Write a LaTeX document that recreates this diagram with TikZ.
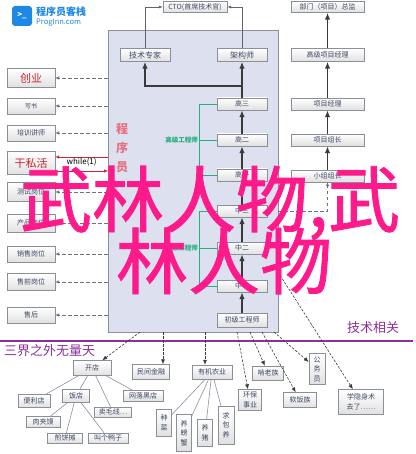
\documentclass[tikz,border=0pt]{standalone}
\usepackage{fontspec}
\setmainfont{Noto Sans CJK SC}
\newfontfamily\epais[FakeBold=1.2]{Noto Sans CJK SC}
\usetikzlibrary{arrows.meta}
\definecolor{gris}{HTML}{8A8F99}
\definecolor{sombre}{HTML}{3A3A3A}
\definecolor{encre}{HTML}{3C4865}
\definecolor{panneau}{HTML}{DCE0EF}
\definecolor{vert}{HTML}{22B07D}
\definecolor{rouge}{HTML}{C8282E}
\definecolor{violet}{HTML}{8B2F9C}
\definecolor{rose}{HTML}{FF1A8C}
\definecolor{saumon}{HTML}{E8707E}
\definecolor{bleu}{HTML}{1E88E5}
\begin{document}
\begin{tikzpicture}[x=1pt,y=-1pt]
	\tikzstyle{boite}=[draw=gris,top color=white,bottom color=black!12,text=encre,inner sep=0pt,minimum height=12,align=center,font=\fontsize{7}{9.5}\selectfont]
	\tikzstyle{grande}=[boite,text=rouge,font=\fontsize{11}{12}\selectfont]
	\tikzstyle{fleche}=[-{Latex[length=7pt,width=5.5pt]},line width=1.8pt,draw=sombre]
	\tikzstyle{filet}=[-{Latex[length=4pt,width=3pt]},draw=gris!70!black,semithick]
	\tikzstyle{pointille}=[-{Latex[length=4pt,width=3.5pt]},draw=gris!80!black,dash pattern=on 3.5pt off 2.5pt,semithick]
	\tikzstyle{tiret}=[-{Latex[length=5pt,width=4pt]},draw=sombre,dash pattern=on 2.5pt off 1.5pt,semithick]
	\tikzstyle{rouge}=[-{Latex[length=4pt,width=3.5pt]},draw=rouge,semithick]
	\tikzstyle{branche}=[draw=gris,semithick]
	\tikzstyle{accolade}=[draw=vert,semithick]
	\tikzstyle{etiquette}=[text=vert,font=\fontsize{6.5}{7}\bfseries\selectfont,inner sep=1pt,anchor=east]
	\tikzstyle{filigrane}=[text=rose,font=\fontsize{72}{72}\epais,inner sep=0pt]
	\def\ColGauche{31}\def\ColCentre{242}\def\ColDroite{327.5}
	\useasboundingbox (0,0) rectangle (415,454);
	% logo
	\node[fill=bleu,rounded corners=3,minimum size=20,inner sep=0pt,text=white,font=\fontsize{8}{8}\bfseries\selectfont] (logo) at (22,16) {>\_};
	\node[text=bleu,font=\fontsize{10}{10}\bfseries\selectfont,anchor=west,inner sep=0pt] (nom) at (36,12) {程序员客栈};
	\node[text=bleu,font=\fontsize{7.5}{8}\selectfont,anchor=west,inner sep=0pt] (site) at (36,23) {ProgInn.com};
	% panneau central
	\node[draw=gris,fill=panneau,minimum width=170,minimum height=302,inner sep=0pt] (P) at (193,181) {};
	\node[text=saumon,font=\fontsize{12}{19}\bfseries\selectfont,align=center] (prog) at (122,148) {程\\序\\员};
	\node[boite,minimum width=64,minimum height=11] (CTO) at (195,7) {CTO(首席技术官)};
	\node[boite,minimum width=50,minimum height=13,font=\fontsize{8}{9}\selectfont] (JZ) at (145,55) {技术专家};
	\node[boite,minimum width=50,minimum height=13,font=\fontsize{8}{9}\selectfont] (JG) at (\ColCentre,55) {架构师};
	\node[boite,minimum width=50] (H3) at (\ColCentre,104) {高三};
	\node[boite,minimum width=50] (H2) at (\ColCentre,140) {高二};
	\node[boite,minimum width=50] (H1) at (\ColCentre,175) {高一};
	\node[boite,minimum width=50] (M3) at (\ColCentre,211) {中三};
	\node[boite,minimum width=50] (M2) at (\ColCentre,248) {中二};
	\node[boite,minimum width=50] (M1) at (\ColCentre,286) {中一};
	\node[boite,minimum width=50,minimum height=14] (CJ) at (\ColCentre,320) {初级工程师};
	\draw[filet] (JZ.north) |- (CTO.west);
	\draw[filet] (JG.north) |- (CTO.east);
	\draw[fleche] (H3) -- (JG);
	\coordinate (coude) at (\ColCentre,86);
	\draw[fleche] (coude) -| (JZ);
	\draw[fleche] (H2) -- (H3);
	\draw[fleche] (H1) -- (H2);
	\draw[fleche] (M3) -- (H1);
	\draw[fleche] (M2) -- (M3);
	\draw[fleche] (M1) -- (M2);
	\draw[fleche] (CJ) -- (M1);
	% accolades vertes
	\node[etiquette] (GH) at (199,140) {高级工程师};
	\node[etiquette] (GM) at (199,248) {中级工程师};
	\draw[accolade] (H3.west) -- ++(-18,0) |- (H1.west);
	\draw[accolade] (GH.east) -- (H2.west);
	\draw[accolade] (M3.west) -- ++(-18,0) |- (M1.west);
	\draw[accolade] (GM.east) -- (M2.west);
	% colonne de droite
	\node[boite,minimum width=73,minimum height=11] (R1) at (\ColDroite,7) {部门（项目）总监};
	\node[boite,minimum width=73,minimum height=13] (R2) at (\ColDroite,55) {高级项目经理};
	\node[boite,minimum width=73] (R3) at (\ColDroite,104) {项目经理};
	\node[boite,minimum width=73] (R4) at (\ColDroite,140) {项目组长};
	\node[boite,minimum width=73] (R5) at (\ColDroite,176) {小组组长};
	\draw[fleche] (R2) -- (R1);
	\draw[fleche] (R3) -- (R2);
	\draw[fleche] (R4) -- (R3);
	\draw[fleche] (R5) -- (R4);
	\draw[pointille] (P.east |- M3) -| (R5);
	% colonne de gauche
	\node[grande,minimum width=48,minimum height=19] (C1) at (\ColGauche,78) {创业};
	\node[boite,minimum width=48,minimum height=16,font=\fontsize{6}{7}\selectfont] (C2) at (\ColGauche,106) {写书};
	\node[boite,minimum width=48,minimum height=16] (C3) at (\ColGauche,133) {培训讲师};
	\node[grande,minimum width=48,minimum height=23] (C4) at (\ColGauche,163) {干私活};
	\node[boite,minimum width=48,minimum height=19] (C5) at (\ColGauche,192) {测试岗位};
	\node[boite,minimum width=48,minimum height=18] (C6) at (\ColGauche,223) {产品岗位};
	\node[boite,minimum width=48,minimum height=16] (C7) at (\ColGauche,254) {销售岗位};
	\node[boite,minimum width=48,minimum height=17] (C8) at (\ColGauche,282) {售前岗位};
	\node[boite,minimum width=48,minimum height=16] (C9) at (\ColGauche,315) {售后};
	\foreach \c in {C1,C2,C3,C5,C6,C7,C8,C9}
		\draw[pointille] (P.west |- \c) -- (\c.east);
	\coordinate (ga) at (108,157);
	\coordinate (gb) at (108,171);
	\draw[rouge] (ga) -- (C4.east |- ga);
	\draw[rouge] (C4.east |- gb) -- (gb) node[midway,above=1pt,text=black,font=\fontsize{8}{8}\selectfont] {while(1)};
	% separation
	\draw[violet,line width=2pt] (0,341) -- (413,341);
	\node[text=violet,font=\fontsize{13}{13}\selectfont,anchor=west,inner sep=0pt] (sanjie) at (4,351) {三界之外无量天};
	\node[text=violet,font=\fontsize{13}{13}\selectfont,anchor=west,inner sep=0pt] (jishu) at (347,328) {技术相关};
	% en bas
	\node[boite,minimum width=38,minimum height=15] (KD) at (92,368) {开店};
	\node[boite,minimum width=37,minimum height=15] (MJ) at (151,372) {民间金融};
	\node[boite,minimum width=40,minimum height=14] (YJ) at (212,372) {有机农业};
	\node[boite,minimum width=32,minimum height=13] (BL) at (34,401) {便利店};
	\node[boite,minimum width=27,minimum height=13] (FD) at (76,396) {饭店};
	\node[boite,minimum width=40,minimum height=11] (WL) at (143,396) {网落黑店};
	\node[boite,minimum width=37,minimum height=10] (MX) at (113,412) {卖毛线…};
	\node[boite,minimum width=34,minimum height=11] (RJ) at (43,422) {肉夹馍};
	\node[boite,minimum width=35,minimum height=10] (JB) at (65,438) {煎饼摊};
	\node[boite,minimum width=40,minimum height=10] (JY) at (108,438) {叫个鸭子};
	\node[boite,minimum width=15,minimum height=27] (ZC) at (164,423) {种\\菜};
	\node[boite,minimum width=15,minimum height=37] (YP) at (184,433) {养\\螃\\蟹};
	\node[boite,minimum width=15,minimum height=27] (YZ) at (205,433) {养\\猪};
	\node[boite,minimum width=16,minimum height=38] (QB) at (226,425) {求\\包\\养};
	\node[boite,minimum width=23,minimum height=21] (HB) at (250,400) {环保\\事业};
	\node[boite,minimum width=31,minimum height=14] (KL) at (268,373) {啃老族};
	\node[boite,minimum width=33,minimum height=15] (RF) at (300,400) {软饭族};
	\node[boite,minimum width=16,minimum height=31] (GW) at (317,369) {公\\务\\员};
	\node[boite,minimum width=45,minimum height=25] (XY) at (361,402) {学隐身术\\去了……};
	\foreach \f in {BL,FD,MX,WL}
		\draw[branche] (KD) -- (\f);
	\foreach \f in {RJ,JB,JY}
		\draw[branche] (FD) -- (\f);
	\foreach \f in {ZC,YP,YZ,QB}
		\draw[branche] (YJ) -- (\f);
	\coordinate (b1) at (140,332);
	\coordinate (b2) at (163,332);
	\coordinate (b3) at (205,332);
	\coordinate (b4) at (237,332);
	\coordinate (b5) at (250,332);
	\coordinate (b6) at (262,332);
	\coordinate (b7) at (274,332);
	\coordinate (b8) at (278,272);
	\draw[tiret] (b1) -- (KD);
	\draw[tiret] (b2) -- (b2 |- MJ.north);
	\draw[tiret] (b3) -- (b3 |- YJ.north);
	\draw[tiret] (b4) -- (HB);
	\draw[tiret] (b5) -- (KL);
	\draw[tiret] (b6) -- (RF);
	\draw[tiret] (b7) -- (GW);
	\draw[tiret] (b8) -- (XY);
	% filigrane
	\node[filigrane] (W1) at (210,203) {武林人物,武};
	\node[filigrane] (W2) at (224,261) {林人物};
\end{tikzpicture}
\end{document}
